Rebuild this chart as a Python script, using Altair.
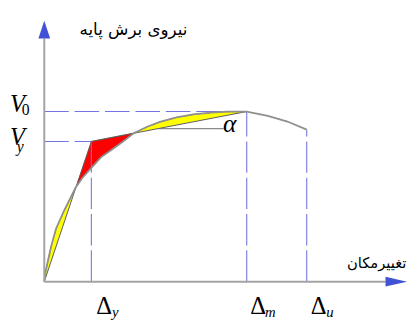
import altair as alt
import pandas as pd

# ---- data (displacement, base shear) ----
curve_x = [0, 1.5, 3.7, 7, 12, 19.5, 26, 32, 39, 48, 58, 68, 79, 91.7,
           105, 118, 135, 152, 170, 187, 206.5, 228, 248, 267.7]
curve_y = [0, 11, 21, 36, 54, 71, 84, 96, 106, 116, 127, 134, 142, 151.7,
           158, 163, 167.5, 170.5, 172.5, 173.3, 173.5, 169, 163.3, 155]

# idealised bilinear curve
bilin_x = [0, 48, 206.5]
bilin_y = [0, 143, 173.5]

# characteristic values
delta_y, delta_m, delta_u = 48, 206.5, 267.7
V_y, V_0, V_u = 143, 173.5, 155

# horizontal reference line for the angle alpha
alpha_x = [116, 183]
alpha_y = 156

# axis extents (arrow bases / arrow centres)
x_axis_end, y_axis_end = 348, 248
x_arrow, y_arrow = 359, 257

X_DOM, Y_DOM = 370, 266

SERIF = "Liberation Serif, Times New Roman, Times, serif"
ARABIC = "DejaVu Sans, sans-serif"

xs = alt.Scale(domain=[0, X_DOM], nice=False, zero=False)
ys = alt.Scale(domain=[0, Y_DOM], nice=False, zero=False)


def X(f="x"):
    return alt.X(f"{f}:Q", scale=xs, axis=None)


def Y(f="y"):
    return alt.Y(f"{f}:Q", scale=ys, axis=None)


curve_df = pd.DataFrame({"x": curve_x, "y": curve_y, "i": range(len(curve_x))})
bilin_df = pd.DataFrame({"x": bilin_x, "y": bilin_y, "i": range(len(bilin_x))})

# polygons between the curve and the bilinear idealisation
i1 = curve_x.index(32)
i2 = curve_x.index(91.7)
i3 = curve_x.index(206.5)
reg1 = [(curve_x[k], curve_y[k]) for k in range(0, i1 + 1)]
reg2 = [(curve_x[k], curve_y[k]) for k in range(i1, i2 + 1)] + [(bilin_x[1], bilin_y[1])]
reg3 = [(curve_x[k], curve_y[k]) for k in range(i2, i3 + 1)]


def poly(pts, color):
    df = pd.DataFrame({"x": [p[0] for p in pts], "y": [p[1] for p in pts],
                       "i": range(len(pts))})
    return alt.Chart(df).mark_line(strokeWidth=0.6).encode(
        x=X(), y=Y(), order="i:Q",
        fill=alt.value(color), stroke=alt.value("#6b6b3a"))


layers = [poly(reg1, "#ffff00"), poly(reg2, "#ff0000"), poly(reg3, "#ffff00")]

# dashed guide lines
hdash = pd.DataFrame({"x": [0, 0], "x2": [delta_y, delta_m], "y": [V_y, V_0]})
vdash = pd.DataFrame({"x": [delta_y, delta_m, delta_u], "y": [0, 0, 0],
                      "y2": [V_y, V_0, V_u]})
layers.append(alt.Chart(hdash).mark_rule(color="#7474e0", strokeWidth=1.1,
                                         strokeDash=[25, 6]).encode(
    x=X(), x2="x2:Q", y=Y()))
layers.append(alt.Chart(vdash).mark_rule(color="#7474e0", strokeWidth=1.1,
                                         strokeDash=[32, 5]).encode(
    x=X(), y=Y(), y2="y2:Q"))

# bilinear line and alpha line
layers.append(alt.Chart(bilin_df).mark_line(color="#5a5a5a", strokeWidth=1).encode(
    x=X(), y=Y(), order="i:Q"))
adf = pd.DataFrame({"x": [alpha_x[0]], "x2": [alpha_x[1]], "y": [alpha_y]})
layers.append(alt.Chart(adf).mark_rule(color="#6a6a6a", strokeWidth=1).encode(
    x=X(), x2="x2:Q", y=Y()))

# capacity curve
layers.append(alt.Chart(curve_df).mark_line(color="#8f8f8f", strokeWidth=1.8).encode(
    x=X(), y=Y(), order="i:Q"))

# axes lines
layers.append(alt.Chart(pd.DataFrame({"x": [0], "y": [0], "y2": [y_axis_end]}))
              .mark_rule(color="#a3a3a3", strokeWidth=2).encode(x=X(), y=Y(), y2="y2:Q"))
layers.append(alt.Chart(pd.DataFrame({"x": [0], "x2": [x_axis_end], "y": [0]}))
              .mark_rule(color="#a3a3a3", strokeWidth=2).encode(x=X(), x2="x2:Q", y=Y()))

# arrow heads
layers.append(alt.Chart(pd.DataFrame({"x": [0], "y": [y_arrow]})).mark_point(
    shape="M0,-1L0.667,1L-0.667,1Z", size=324, filled=True, opacity=1,
    fill="#4152d4", strokeWidth=0).encode(x=X(), y=Y()))
layers.append(alt.Chart(pd.DataFrame({"x": [x_arrow], "y": [0]})).mark_point(
    shape="M1,0L-1,0.45L-1,-0.45Z", size=484, filled=True, opacity=1,
    fill="#4152d4", strokeWidth=0).encode(x=X(), y=Y()))


def label(x, y, text, size, dx=0, dy=0, font=SERIF,
          style="normal", align="left"):
    return alt.Chart(pd.DataFrame({"x": [x], "y": [y], "t": [text]})).mark_text(
        fontSize=size, font=font, fontStyle=style, align=align,
        baseline="alphabetic", dx=dx, dy=dy, color="#000000").encode(
        x=X(), y=Y(), text="t:N")


# axis titles
layers.append(label(91, 252, "نیروی  برش  پایه", 17, font=ARABIC, align="center"))
layers.append(label(339, 14, "تغییرمکان", 15, font=ARABIC, align="center"))

# V labels
layers.append(label(0, V_0, "V", 25, dx=-35, dy=0, style="italic"))
layers.append(label(0, V_0, "0", 16, dx=-23, dy=4))
layers.append(label(0, V_y, "V", 25, dx=-35, dy=4, style="italic"))
layers.append(label(0, V_y, "y", 16, dx=-28, dy=11, style="italic"))

# alpha
layers.append(label(189, alpha_y, "α", 26, dy=3, style="italic", align="center"))

# Delta labels
for dv, sub, dxd, dxs in [(delta_y, "y", 5, 21), (delta_m, "m", 3.5, 18.5),
                          (delta_u, "u", 4, 20)]:
    layers.append(label(dv, 0, "Δ", 25, dx=dxd, dy=33))
    layers.append(label(dv, 0, sub, 15, dx=dxs, dy=36, style="italic"))

chart = alt.layer(*layers).properties(
    width=X_DOM, height=Y_DOM,
    padding={"left": 37, "top": 10, "right": 2, "bottom": 36},
    autosize=alt.AutoSizeParams(type="none"),
).configure_view(stroke=None)

chart.save("out.html", embed_options={"renderer": "svg", "actions": False})
